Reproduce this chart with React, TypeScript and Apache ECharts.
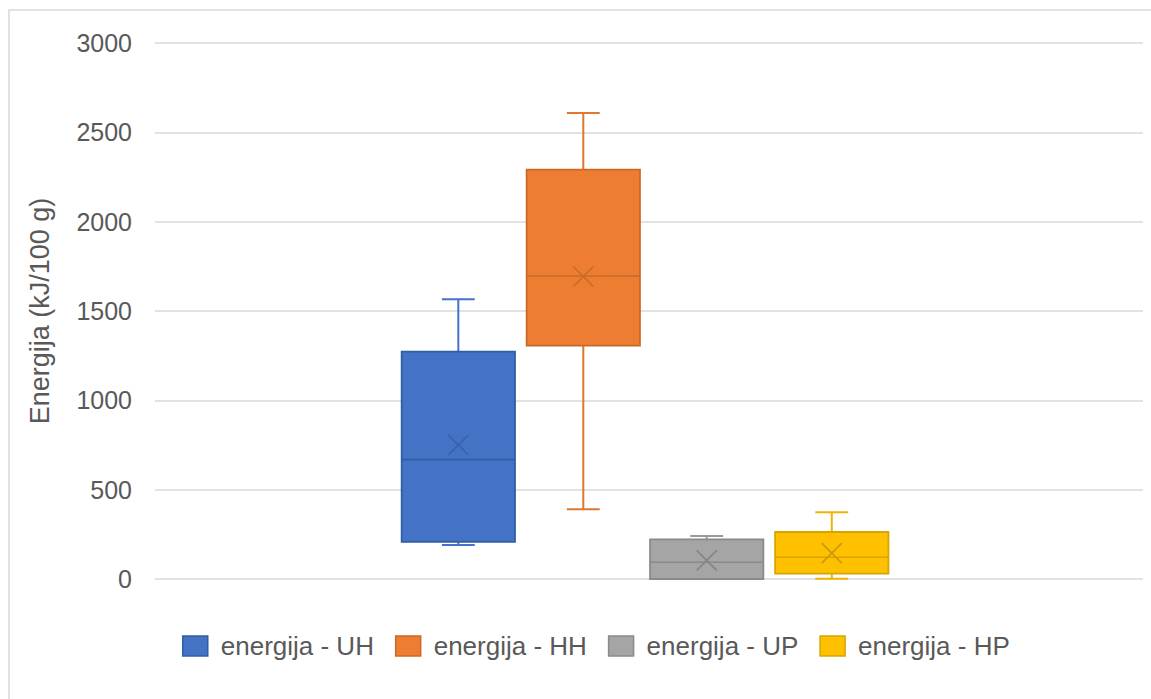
import React, { useEffect, useRef } from "react";
import * as echarts from "echarts";

const categories = ["energija"];
const seriesNames = ["energija - UH", "energija - HH", "energija - UP", "energija - HP"];
// [min, Q1, median, Q3, max]
const uhBox = [190, 208, 668, 1273, 1566];
const hhBox = [391, 1306, 1696, 2291, 2608];
const upBox = [0, 0, 94, 222, 240];
const hpBox = [2, 30, 122, 263, 374];
const boxes = [uhBox, hhBox, upBox, hpBox];
const means = [750, 1693, 104, 145];
const yMin = 0;
const yMax = 3000;
const yInterval = 500;

const fills = ["#4472C4", "#ED7D31", "#A5A5A5", "#FFC000"];
const borders = ["#2F5EA8", "#C96A2A", "#8A8A8A", "#D9A400"];
const whiskers = ["#4472C4", "#E07630", "#9A9A9A", "#F0B400"];
const marks = ["#3A62A8", "#C86B2C", "#858585", "#C99A10"];

const OFFSETS = [-0.193, -0.0665, 0.0584, 0.185];
const BOX_W = 0.1147;

const makeRender = (k: number) => (params: any, api: any) => {
  const xv = api.value(0);
  const c = api.coord([xv, 0]);
  const band = api.size([1, 0])[0];
  const cx = c[0] + OFFSETS[k] * band;
  const bw = BOX_W * band;
  const y = (v: number) => api.coord([xv, v])[1];
  const yMinP = y(api.value(1));
  const yQ1 = y(api.value(2));
  const yMed = y(api.value(3));
  const yQ3 = y(api.value(4));
  const yMaxP = y(api.value(5));
  const yMean = y(api.value(6));
  const cap = bw * 0.145;
  const m = 10;
  const wStyle = { stroke: whiskers[k], lineWidth: 2 };
  const mStyle = { stroke: marks[k], lineWidth: 1.6 };
  return {
    type: "group",
    children: [
      { type: "line", shape: { x1: cx, y1: yQ3, x2: cx, y2: yMaxP }, style: wStyle },
      { type: "line", shape: { x1: cx - cap, y1: yMaxP, x2: cx + cap, y2: yMaxP }, style: wStyle },
      { type: "line", shape: { x1: cx, y1: yQ1, x2: cx, y2: yMinP }, style: wStyle },
      { type: "line", shape: { x1: cx - cap, y1: yMinP, x2: cx + cap, y2: yMinP }, style: wStyle },
      {
        type: "rect",
        shape: { x: cx - bw / 2, y: yQ3, width: bw, height: yQ1 - yQ3 },
        style: { fill: fills[k], stroke: borders[k], lineWidth: 1.8 },
      },
      { type: "line", shape: { x1: cx - bw / 2, y1: yMed, x2: cx + bw / 2, y2: yMed }, style: { stroke: borders[k], lineWidth: 1.6 } },
      { type: "line", shape: { x1: cx - m, y1: yMean - m, x2: cx + m, y2: yMean + m }, style: mStyle },
      { type: "line", shape: { x1: cx - m, y1: yMean + m, x2: cx + m, y2: yMean - m }, style: mStyle },
    ],
  };
};

export default function App() {
  const ref = useRef<HTMLDivElement>(null);
  useEffect(() => {
    if (!ref.current) return;
    const chart = echarts.init(ref.current, undefined, { renderer: "svg" });
    const font = "'Liberation Sans', Arial, sans-serif";
    chart.setOption({
      animation: false,
      backgroundColor: "#ffffff",
      graphic: [
        {
          type: "rect",
          shape: { x: 9, y: 10, width: 1160, height: 720 },
          style: { fill: "none", stroke: "#d9d9d9", lineWidth: 1.5 },
          silent: true,
        },
      ],
      grid: { left: 155, right: 8, top: 43, bottom: 120, containLabel: false },
      legend: {
        left: 182,
        top: 633,
        padding: 0,
        icon: "rect",
        itemWidth: 25,
        itemHeight: 20,
        itemGap: 21,
        textStyle: { fontSize: 26, color: "#595959", fontFamily: font, padding: [0, 0, 0, 8] },
        data: seriesNames.map((n, i) => ({
          name: n,
          itemStyle: { color: fills[i], borderColor: borders[i], borderWidth: 1.5 },
        })),
      },
      xAxis: {
        type: "category",
        data: categories,
        axisLabel: { show: false },
        axisTick: { show: false },
        axisLine: { show: false },
        splitLine: { show: false },
      },
      yAxis: {
        type: "value",
        min: yMin,
        max: yMax,
        interval: yInterval,
        name: "Energija (kJ/100 g)",
        nameLocation: "middle",
        nameGap: 102,
        nameRotate: 90,
        nameTextStyle: { fontSize: 27, color: "#595959", fontFamily: font },
        axisLabel: {
          fontSize: 25,
          color: "#595959",
          fontFamily: font,
          margin: 23,
          formatter: (v: number) => String(v),
        },
        axisLine: { show: false },
        axisTick: { show: false },
        splitLine: { lineStyle: { color: "#d9d9d9", width: 1.5 } },
      },
      series: boxes.map((b, i) => ({
        type: "custom",
        name: seriesNames[i],
        renderItem: makeRender(i),
        itemStyle: { color: fills[i], borderColor: borders[i] },
        encode: { x: 0, y: [1, 2, 3, 4, 5, 6] },
        data: [[0, ...b, means[i]]],
      })),
    });
    return () => chart.dispose();
  }, []);
  return (
    <div
      ref={ref}
      style={{ position: "absolute", left: 0, top: 0, width: 1151, height: 699, background: "#fff" }}
    />
  );
}
